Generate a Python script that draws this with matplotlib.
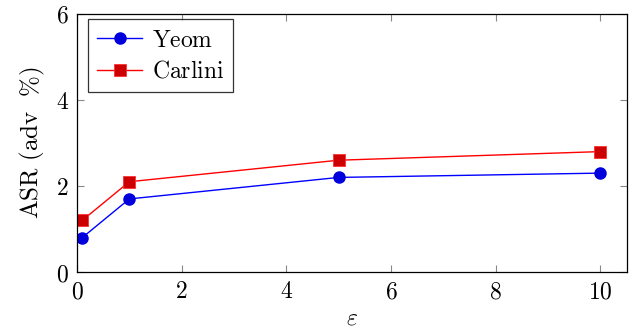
import matplotlib
matplotlib.use("Agg")
import matplotlib.pyplot as plt

eps = [0.1, 1, 5, 10]
yeom = [0.8, 1.7, 2.2, 2.3]
carlini = [1.2, 2.1, 2.6, 2.8]
xticks = [0, 2, 4, 6, 8, 10]
yticks = [0, 2, 4, 6]

plt.rcParams['mathtext.fontset'] = 'cm'
plt.rcParams['font.family'] = 'DejaVu Serif'

fig = plt.figure(figsize=(6.33, 3.31), dpi=100)
ax = fig.add_axes([0.1216, 0.178, 0.8684, 0.780])

ax.plot(eps, yeom, color='blue', lw=1.0, marker='o', ms=8,
        mfc='#0000dd', mec='#0000dd', label=r'$\mathrm{Yeom}$')
ax.plot(eps, carlini, color='red', lw=1.0, marker='s', ms=8,
        mfc='#cc0000', mec='#ff3030', mew=0.6, label=r'$\mathrm{Carlini}$')

ax.set_xlim(0, 10.5)
ax.set_ylim(0, 6)
ax.set_xticks(xticks)
ax.set_yticks(yticks)
ax.set_xticklabels([f'${t}$' for t in xticks])
ax.set_yticklabels([f'${t}$' for t in yticks])
ax.tick_params(direction='in', length=5, width=0.8, color='#888888',
               top=True, right=True, labelsize=17, pad=6)
for s in ax.spines.values():
    s.set_linewidth(0.9)

ax.set_xlabel(r'$\varepsilon$', fontsize=17, labelpad=2)
ax.set_ylabel(r'$\mathrm{ASR\ (adv\ \ \%)}$', fontsize=18, labelpad=6)

leg = ax.legend(loc='upper left', bbox_to_anchor=(0.02, 0.98), fontsize=17,
                frameon=True, fancybox=False,
                edgecolor='black', handlelength=1.9, borderpad=0.4,
                labelspacing=0.35, handletextpad=0.4, borderaxespad=0.0)
leg.get_frame().set_linewidth(0.9)

fig.savefig('out.png', dpi=100)
